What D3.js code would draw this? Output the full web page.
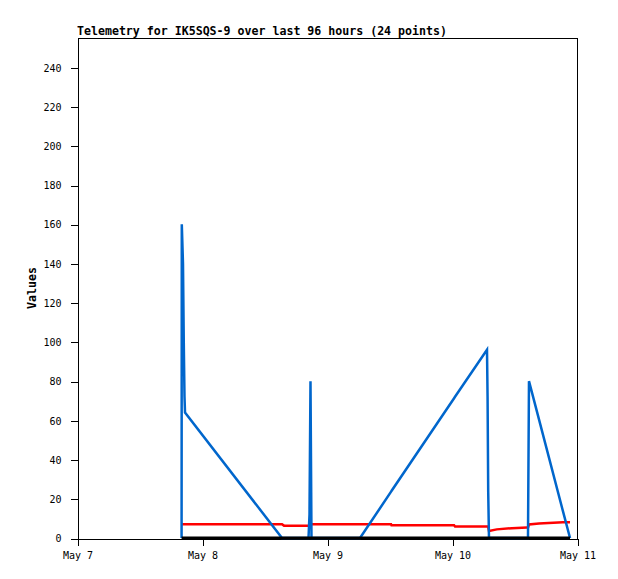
<!DOCTYPE html>
<html><head><meta charset="utf-8">
<script src="https://cdn.jsdelivr.net/npm/d3@7"></script>
<style>body{margin:0;background:#fff}svg{display:block}</style>
</head><body>
<script>
// hours since May 7 00:00
const hours = [20.08, 20.12, 20.35, 20.5, 20.64, 20.74, 39.36, 39.74, 44.45, 44.64, 44.83, 45.02,
               54.34, 60.3, 60.38, 72.4, 72.58, 78.72, 78.83, 78.95, 79.1, 80.6, 83.52, 86.4, 86.59, 86.78, 88.7, 93.3, 94.66];
const blueValues = [0, 160, 140, 100, 72, 64, 0, 0, 0, 12, 80, 0,
                    0, 23.6, 24, 71.3, 72, 96, 72, 24, 0, 0, 0, 0, 0, 80, 60.5, 13.7, 0];
const redValues = [7, 7, 7, 7, 7, 7, 7, 6.3, 6.3, 6.3, 7, 7,
                   7, 7, 6.5, 6.5, 5.9, 5.9, 5.9, 5.9, 3.6, 4.4, 5.0, 5.3, 5.3, 6.9, 7.4, 8.0, 8.0];
const blackValues = [0, 0, 0, 0, 0, 0, 0, 0, 0, 0, 0, 0,
                     0, 0, 0, 0, 0, 0, 0, 0, 0, 0, 0, 0, 0, 0, 0, 0, 0];
const xTickHours = [0, 24, 48, 72, 96];
const xTickLabels = ["May 7", "May 8", "May 9", "May 10", "May 11"];
const yTicks = [0, 20, 40, 60, 80, 100, 120, 140, 160, 180, 200, 220, 240];
const titleText = "Telemetry for IK5SQS-9 over last 96 hours (24 points)";
const yLabel = "Values";

const W = 618, H = 579;
const L = 77, R = 577, T = 38, B = 538;
const mono = "'DejaVu Sans Mono', 'Liberation Mono', monospace";

const svg = d3.select("body").append("svg").attr("width", W).attr("height", H)
  .style("background", "#fff");

const x = d3.scaleLinear().domain([0, 96]).range([L, R]);
const y = d3.scaleLinear().domain([0, 255]).range([B, T]);

// frame (top & right)
svg.append("path")
  .attr("d", `M${L + 0.5},${T + 0.5}H${R + 0.5}V${B + 0.5}`)
  .attr("fill", "none").attr("stroke", "#000").attr("stroke-width", 1)
  .attr("shape-rendering", "crispEdges");

// axes
const yAxis = d3.axisLeft(y).tickValues(yTicks).tickSize(7).tickPadding(9).tickSizeOuter(0);
const gy = svg.append("g").attr("transform", `translate(${L + 0.5},0.5)`).call(yAxis);
const xAxis = d3.axisBottom(x).tickValues(xTickHours).tickSize(7).tickPadding(6).tickSizeOuter(0)
  .tickFormat((d, i) => xTickLabels[i]);
const gx = svg.append("g").attr("transform", `translate(0.5,${B + 0.5})`).call(xAxis);
[gx, gy].forEach(g => {
  g.selectAll("path,line").attr("stroke", "#000").attr("shape-rendering", "crispEdges");
  g.selectAll("text").attr("fill", "#000").style("font-family", mono).style("font-size", "10px");
});

// series
const pts = hours.map((h, i) => ({h, b: blueValues[i], r: redValues[i], k: blackValues[i]}));
const line = key => d3.line().x(d => x(d.h)).y(d => y(d[key]));
svg.append("path").datum(pts).attr("d", line("r")).attr("fill", "none")
  .attr("stroke", "#ff0000").attr("stroke-width", 2.5);
svg.append("path").datum(pts).attr("d", line("b")).attr("fill", "none")
  .attr("stroke", "#0066cc").attr("stroke-width", 2.5);
svg.append("path").datum(pts).attr("d", line("k")).attr("fill", "none")
  .attr("stroke", "#000").attr("stroke-width", 2.8);

// title
svg.append("text").attr("x", L).attr("y", 35).text(titleText)
  .style("font-family", mono).style("font-size", "11.6px").style("font-weight", "bold");

// y label
svg.append("text").attr("transform", `translate(36,${(T + B) / 2}) rotate(-90)`)
  .attr("text-anchor", "middle").text(yLabel)
  .style("font-family", mono).style("font-size", "11.6px").style("font-weight", "bold");
</script>
</body></html>
